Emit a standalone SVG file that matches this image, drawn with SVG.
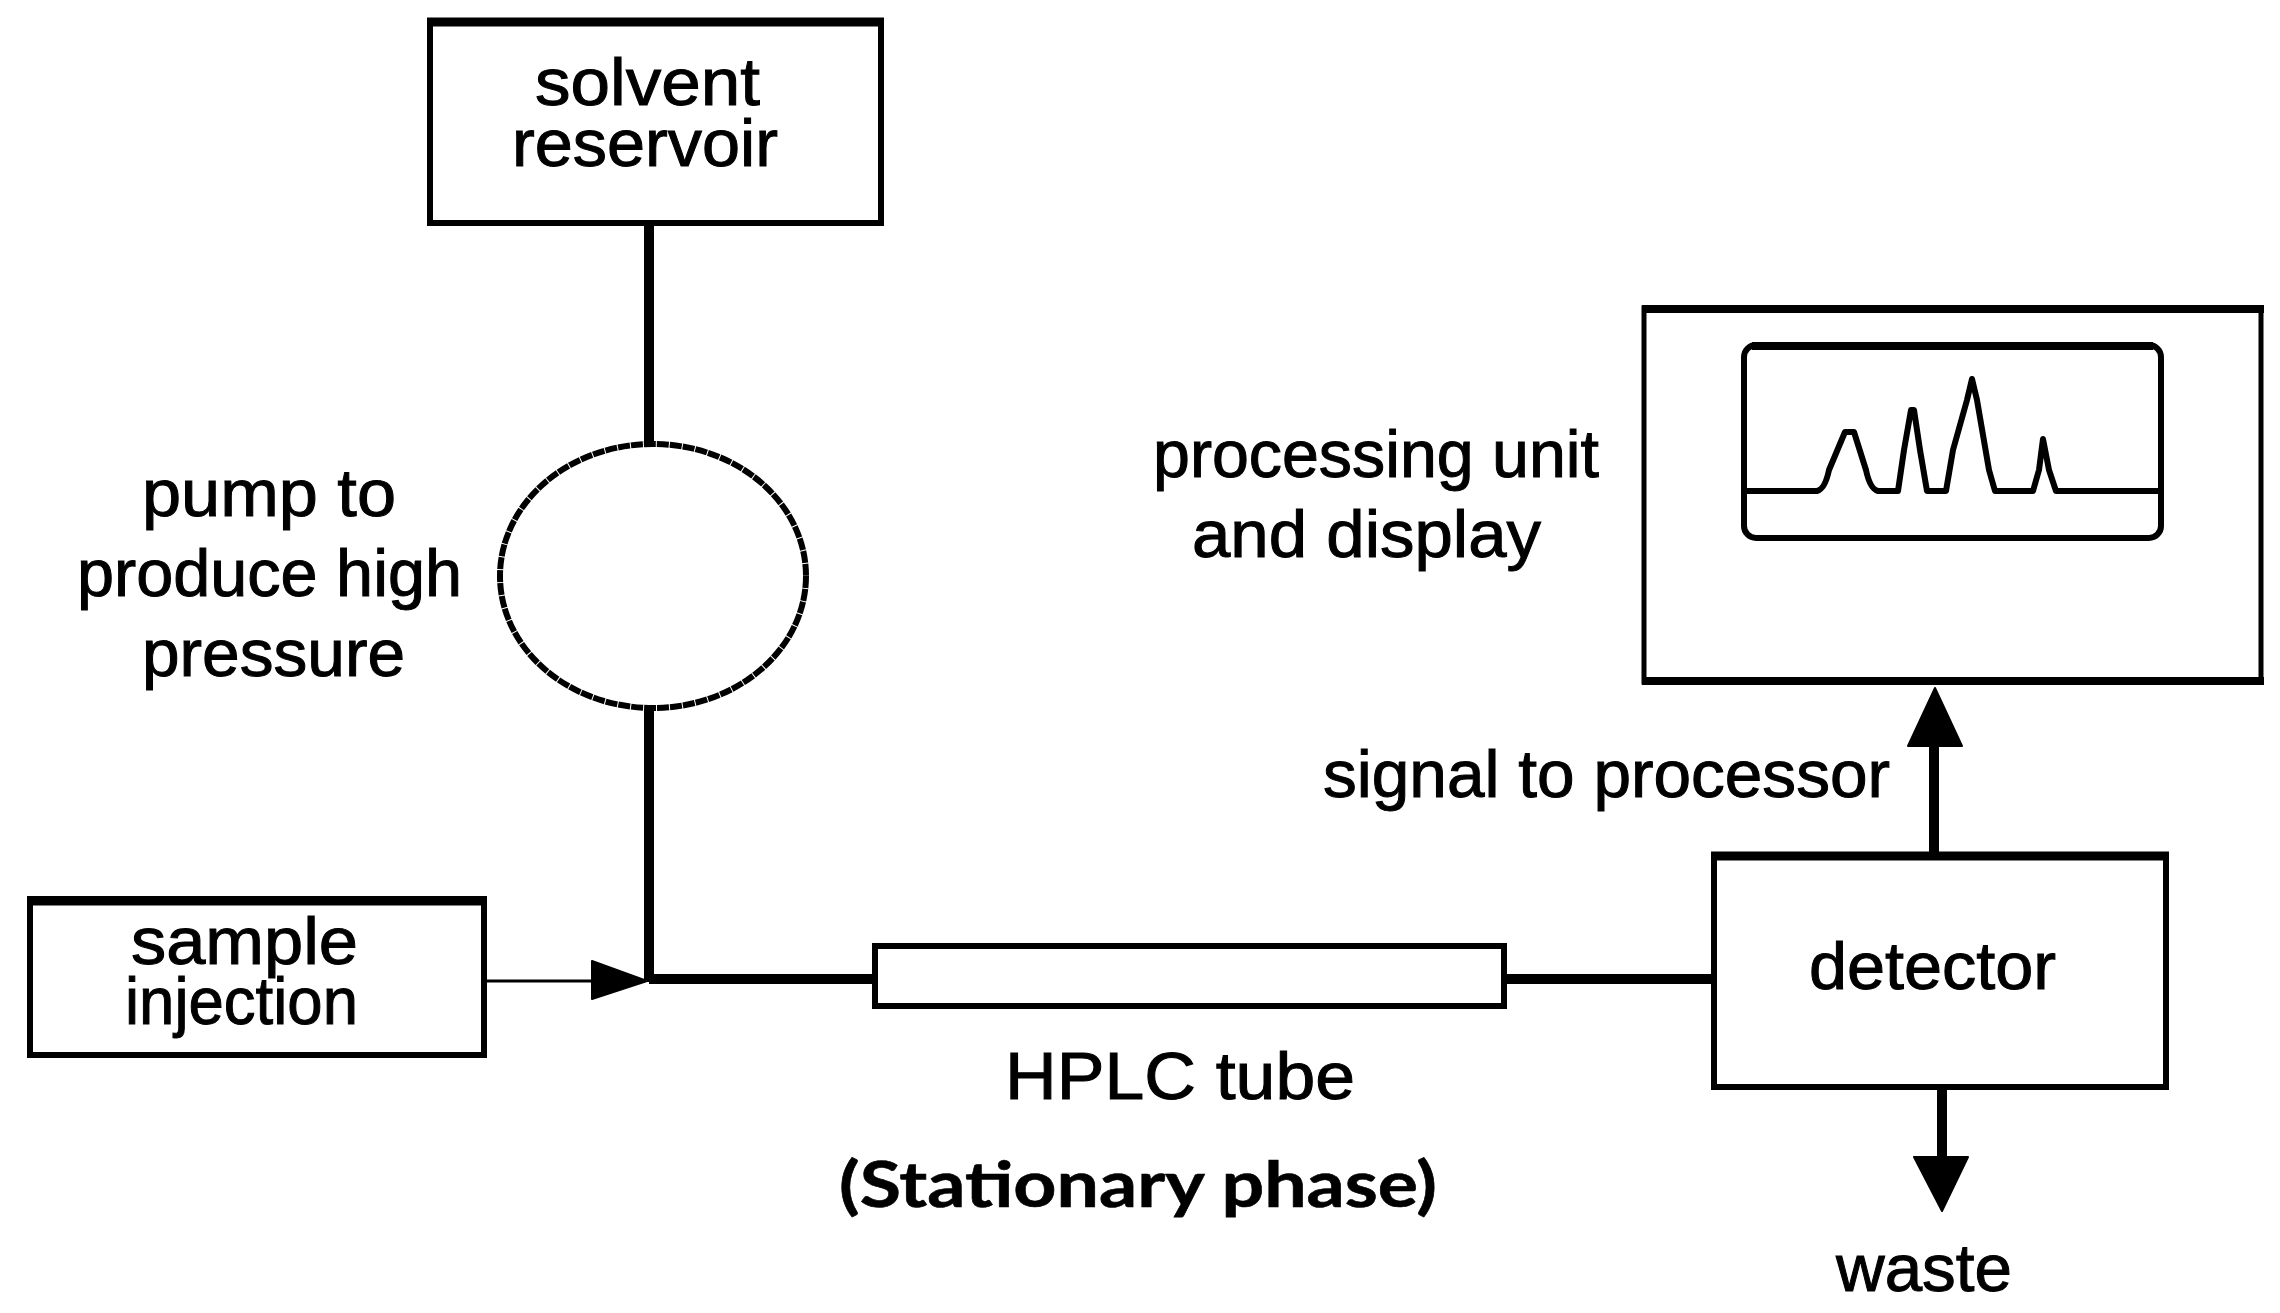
<svg xmlns="http://www.w3.org/2000/svg" width="2280" height="1313" viewBox="0 0 2280 1313">
<defs><style>
.b{fill:#fff;stroke:#000;stroke-width:6}
.t{fill:none;stroke:#000;stroke-width:9}
.d{fill:none;stroke:#000;stroke-width:6;stroke-linejoin:round}
.c{fill:none;stroke:#000;stroke-width:10}
.f{fill:#000;stroke:#000;stroke-width:2;stroke-linejoin:round}
text{font-family:"Liberation Sans",Arial,sans-serif;font-size:66px;fill:#000;stroke:#000;stroke-width:1}
.s{font-family:Lato,"Open Sans",sans-serif;font-weight:700;font-size:64px;stroke:#000;stroke-width:.6}
</style></defs>
<rect width="2280" height="1313" fill="#fff"/>
<g id="connectors">
<path class="c" d="M649 224V445M649 710V982M649 979H873M1505 979H1713"/>
<path class="d" style="stroke-width:3" d="M484 981H596"/>
<path class="f" d="M592 961L647 981L592 999Z"/>
<path class="c" d="M1934 853V740"/>
<path class="f" d="M1908 746L1935 688L1962 746Z"/>
<path class="c" d="M1942 1086V1160"/>
<path class="f" d="M1914 1157H1968L1942 1211Z"/>
</g>
<g id="solvent-reservoir"><rect class="b" x="430" y="21" width="451" height="202"/><path class="t" d="M427 22H884"/>
<text x="535" y="105" textLength="225" lengthAdjust="spacingAndGlyphs">solvent</text>
<text x="512" y="166" textLength="266" lengthAdjust="spacingAndGlyphs">reservoir</text></g>
<g id="pump"><ellipse class="b" cx="653" cy="576" rx="153" ry="132" stroke-dasharray="12 1"/>
<text x="142" y="516" textLength="254" lengthAdjust="spacingAndGlyphs">pump to</text>
<text x="77" y="596" textLength="385" lengthAdjust="spacingAndGlyphs">produce high</text>
<text x="142" y="676" textLength="263" lengthAdjust="spacingAndGlyphs">pressure</text></g>
<g id="sample-injection"><rect class="b" x="30" y="899" width="454" height="156"/><path class="t" d="M27 901H486"/>
<text x="131" y="964" textLength="227" lengthAdjust="spacingAndGlyphs">sample</text>
<text x="125" y="1024" textLength="233" lengthAdjust="spacingAndGlyphs">injection</text></g>
<g id="hplc-tube"><rect class="b" x="875" y="946" width="629" height="60"/>
<text x="1005" y="1099" textLength="350" lengthAdjust="spacingAndGlyphs">HPLC tube</text>
<text class="s" x="839" y="1207" textLength="598" lengthAdjust="spacingAndGlyphs">(Stationary phase)</text></g>
<g id="detector"><rect class="b" x="1714" y="855" width="452" height="232"/><path class="t" d="M1711 856H2169"/>
<text x="1809" y="989" textLength="247" lengthAdjust="spacingAndGlyphs">detector</text></g>
<g id="waste"><text x="1836" y="1291" textLength="176" lengthAdjust="spacingAndGlyphs">waste</text></g>
<g id="signal"><text x="1323" y="797" textLength="567" lengthAdjust="spacingAndGlyphs">signal to processor</text></g>
<g id="processing-unit"><rect class="b" x="1644" y="308" width="617" height="374" style="stroke-width:5"/><path class="t" style="stroke-width:8" d="M1642 309H2264M1642 681H2264"/>
<rect class="b" x="1744" y="345" width="417" height="193" rx="12"/><path class="t" style="stroke-width:8" d="M1752 346H2153"/>
<path class="d" d="M1746 491H1817Q1825 489 1829 470L1845 432H1854L1866 470Q1870 489 1878 491H1898L1904 450L1911 410H1914L1920 450L1927 491H1946L1953 450L1967 400L1972 379L1977 400L1989 470L1995 491H2033L2039 470L2043 439L2049 470L2056 491H2159"/>
<text x="1153" y="477" textLength="446" lengthAdjust="spacingAndGlyphs">processing unit</text>
<text x="1192" y="557" textLength="349" lengthAdjust="spacingAndGlyphs">and display</text></g>
</svg>
